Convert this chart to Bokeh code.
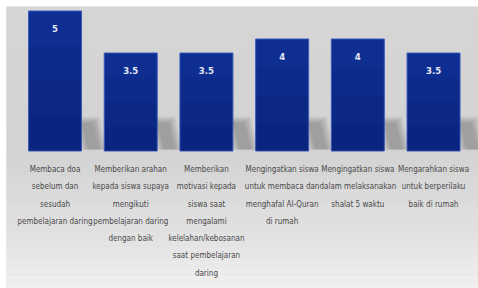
from bokeh.plotting import figure
from bokeh.models import Range1d, ColumnDataSource
from bokeh.core.properties import value
from bokeh.embed import file_html
from bokeh.resources import INLINE
import numpy as np

categories = [
    "Membaca doa\nsebelum dan\nsesudah\npembelajaran daring",
    "Memberikan arahan\nkepada siswa supaya\nmengikuti\npembelajaran daring\ndengan baik",
    "Memberikan\nmotivasi kepada\nsiswa saat\nmengalami\nkelelahan/kebosanan\nsaat pembelajaran\ndaring",
    "Mengingatkan siswa\nuntuk membaca dan\nmenghafal Al-Quran\ndi rumah",
    "Mengingatkan siswa\ndalam melaksanakan\nshalat 5 waktu",
    "Mengarahkan siswa\nuntuk berperilaku\nbaik di rumah",
]
values = [5, 3.5, 3.5, 4, 4, 3.5]
value_labels = ["5", "3.5", "3.5", "4", "4", "3.5"]

xs = list(range(len(values)))
src = ColumnDataSource(dict(x=xs, top=values, lab=value_labels, cat=categories))

FONT = "'DejaVu Sans Condensed', 'Liberation Sans Narrow', 'Roboto Condensed', Roboto, sans-serif"

p = figure(width=478, height=288, output_backend="svg", toolbar_location=None,
           x_range=Range1d(-0.641, 5.594), y_range=Range1d(-4.911, 5.161),
           min_border=0, min_border_left=6, min_border_top=6)
p.axis.visible = False
p.grid.visible = False
p.outline_line_color = None
p.background_fill_color = "#d6d6d6"
p.border_fill_color = "white"

# background vertical gradient (decorative bands)
y0, y1 = -4.911, 5.161
n = 40
stops = [(0.0, (214, 214, 214)), (0.5, (211, 211, 211)), (0.78, (225, 225, 225)), (1.0, (242, 242, 242))]
def col(t):
    for (a, ca), (b, cb) in zip(stops[:-1], stops[1:]):
        if a <= t <= b:
            f = (t - a) / (b - a)
            c = [int(ca[k] + (cb[k] - ca[k]) * f) for k in range(3)]
            return "#%02x%02x%02x" % tuple(c)
    return "#f0f0f0"
edges = np.linspace(y1, y0, n + 1)
p.quad(left=-1, right=6, top=edges[:-1], bottom=edges[1:],
       fill_color=[col(i / n) for i in range(n)], line_color=None)

# soft, blurred shadows behind bars
half = 0.35
for k in range(6):
    g = 0.018 * (5 - k)
    p.patches(xs=[[x + half - g, x + half + 0.15 + g, x + half + 0.24 + g, x + half + 0.09 - g] for x in xs],
              ys=[[1.0 + 2.5 * g, 1.0 + 2.5 * g, 0.05, 0.05] for x in xs],
              fill_color="#404040", fill_alpha=0.07, line_color=None)

# bars
p.vbar(x="x", top="top", bottom=0, width=0.70, source=src,
       fill_color="#0f2e92", line_color="#3a5ab8", line_width=1)
# subtle darkening toward bottom
for frac in [0.75, 0.5, 0.25]:
    p.vbar(x=xs, top=[v * frac for v in values], bottom=0, width=0.68,
           fill_color="#000a40", fill_alpha=0.08, line_color=None)

p.text(x="x", y="top", text="lab", source=src, y_offset=17,
       text_align="center", text_baseline="middle",
       text_font=value(FONT), text_font_style="bold",
       text_font_size="9.5px", text_color="#e4e8f2")

p.text(x="x", y=0, text="cat", source=src, y_offset=14,
       text_align="center", text_baseline="top",
       text_font=value(FONT), text_font_size="8px",
       text_line_height=1.92, text_color="#4a4a4a")

open("out.html", "w").write(file_html(p, INLINE))
